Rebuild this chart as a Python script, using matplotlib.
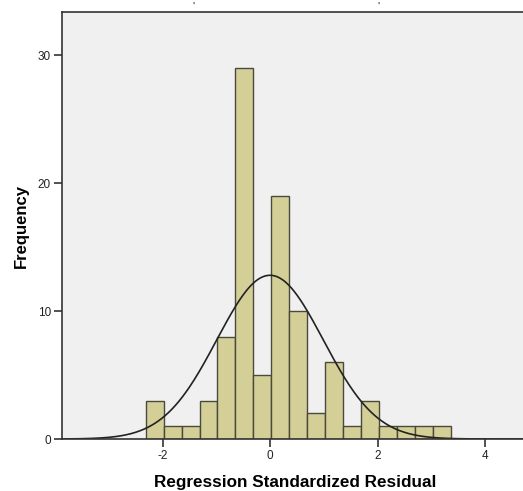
import numpy as np
import matplotlib
matplotlib.use("Agg")
import matplotlib.pyplot as plt

# histogram of regression standardized residuals
counts = [3, 1, 1, 3, 8, 29, 5, 19, 10, 2, 6, 1, 3, 1, 1, 1, 1]
first_edge = -2.313
bin_width = 0.3338
n_cases = 95
resid_mean = 0.0
resid_std = 0.989

x_ticks = [-2, 0, 2, 4]
y_ticks = [0, 10, 20, 30]

plt.rcParams['font.family'] = ['Liberation Sans', 'DejaVu Sans']

fig = plt.figure(figsize=(5.23, 4.91), dpi=100)
ax = fig.add_axes([62 / 523, 52 / 491, 466 / 523, 427 / 491])
ax.set_facecolor('#f0f0f0')

edges = first_edge + bin_width * np.arange(len(counts))
ax.bar(edges, counts, width=bin_width, align='edge', color='#d3cf97',
       edgecolor='#4a4a3c', linewidth=1.0, zorder=2)

# fitted normal curve
xs = np.linspace(-3.87, 4.8, 400)
ys = n_cases * bin_width / (resid_std * np.sqrt(2 * np.pi)) * np.exp(-0.5 * ((xs - resid_mean) / resid_std) ** 2)
ax.plot(xs, ys, color='#222222', linewidth=1.2, zorder=3)

ax.set_xlim(-3.87, 4.8)
ax.set_ylim(0, 33.36)
ax.set_xticks(x_ticks)
ax.set_xticklabels([str(t) for t in x_ticks])
ax.set_yticks(y_ticks)
ax.tick_params(direction='out', length=6, width=1.2, color='#333333',
               labelsize=8.5, labelcolor='#222222', pad=2)

for side in ['top', 'left', 'bottom']:
    ax.spines[side].set_color('#333333')
    ax.spines[side].set_linewidth(1.2)
ax.spines['right'].set_visible(False)
ax.spines['bottom'].set_zorder(4)

ax.set_xlabel('Regression Standardized Residual', fontsize=12.3, fontweight='bold', labelpad=9)
ax.set_ylabel('Frequency', fontsize=12, fontweight='bold', labelpad=6)

# leftover marks above the frame
fig.text(193 / 523, 1 - 7 / 491, "'", fontsize=8, ha='center', va='center', color='#222222')
fig.text(378 / 523, 1 - 7 / 491, "'", fontsize=8, ha='center', va='center', color='#222222')

fig.savefig('out.png', dpi=100)
